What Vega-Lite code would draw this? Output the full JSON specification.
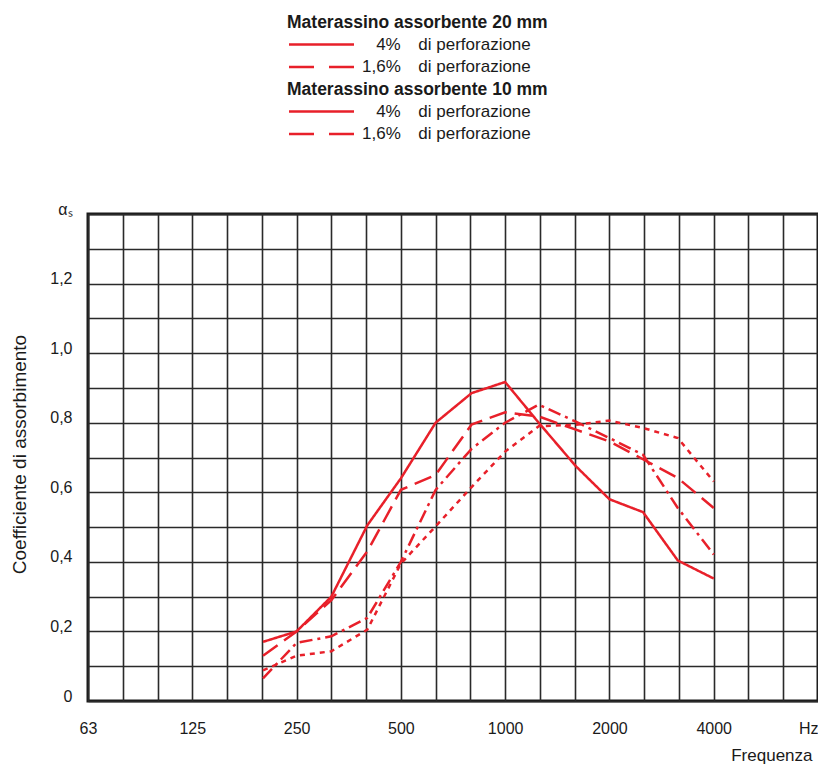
{
  "$schema": "https://vega.github.io/schema/vega-lite/v6.json",
  "width": 730,
  "height": 487,
  "autosize": {"type": "none"},
  "padding": {"left": 88, "top": 214, "right": 0, "bottom": 63},
  "background": "white",
  "config": {
    "font": "Liberation Sans",
    "view": {"stroke": "#1a1a1a", "strokeWidth": 3},
    "axis": {
      "grid": true,
      "gridColor": "#2a2a2a",
      "gridWidth": 1.6,
      "gridOpacity": 1,
      "ticks": false,
      "domain": false,
      "labelFont": "Liberation Sans",
      "labelFontSize": 16,
      "labelColor": "#1a1a1a",
      "labelOverlap": false,
      "labelFlush": false,
      "titleFont": "Liberation Sans",
      "titleFontSize": 17,
      "titleFontWeight": "normal",
      "titleColor": "#1a1a1a"
    },
    "legend": {
      "orient": "none",
      "direction": "vertical",
      "padding": 0,
      "titleFont": "Liberation Sans",
      "titleFontSize": 17.5,
      "titleFontWeight": "bold",
      "titleColor": "#1a1a1a",
      "titleLimit": 500,
      "titlePadding": 4.5,
      "labelFont": "Liberation Sans",
      "labelFontSize": 17,
      "labelColor": "#1a1a1a",
      "labelLimit": 500,
      "labelOffset": 58,
      "rowPadding": 4.5,
      "symbolType": "M-1,0H9",
      "symbolSize": 169,
      "symbolStrokeWidth": 2.5,
      "symbolStrokeColor": "#e8202a"
    }
  },
  "data": {
    "values": [
      {"m": "20 mm", "p": "4%", "f": 200, "a": 0.17},
      {"m": "20 mm", "p": "4%", "f": 250, "a": 0.2},
      {"m": "20 mm", "p": "4%", "f": 315, "a": 0.3},
      {"m": "20 mm", "p": "4%", "f": 400, "a": 0.505},
      {"m": "20 mm", "p": "4%", "f": 500, "a": 0.64},
      {"m": "20 mm", "p": "4%", "f": 630, "a": 0.8},
      {"m": "20 mm", "p": "4%", "f": 800, "a": 0.885},
      {"m": "20 mm", "p": "4%", "f": 1000, "a": 0.917},
      {"m": "20 mm", "p": "4%", "f": 1250, "a": 0.8},
      {"m": "20 mm", "p": "4%", "f": 1600, "a": 0.675},
      {"m": "20 mm", "p": "4%", "f": 2000, "a": 0.58},
      {"m": "20 mm", "p": "4%", "f": 2500, "a": 0.543},
      {"m": "20 mm", "p": "4%", "f": 3150, "a": 0.404},
      {"m": "20 mm", "p": "4%", "f": 4000, "a": 0.352},
      {"m": "20 mm", "p": "1,6%", "f": 200, "a": 0.13},
      {"m": "20 mm", "p": "1,6%", "f": 250, "a": 0.2},
      {"m": "20 mm", "p": "1,6%", "f": 315, "a": 0.29},
      {"m": "20 mm", "p": "1,6%", "f": 400, "a": 0.43},
      {"m": "20 mm", "p": "1,6%", "f": 500, "a": 0.607},
      {"m": "20 mm", "p": "1,6%", "f": 630, "a": 0.65},
      {"m": "20 mm", "p": "1,6%", "f": 800, "a": 0.795},
      {"m": "20 mm", "p": "1,6%", "f": 1000, "a": 0.83},
      {"m": "20 mm", "p": "1,6%", "f": 1250, "a": 0.818},
      {"m": "20 mm", "p": "1,6%", "f": 1600, "a": 0.78},
      {"m": "20 mm", "p": "1,6%", "f": 2000, "a": 0.746},
      {"m": "20 mm", "p": "1,6%", "f": 2500, "a": 0.695},
      {"m": "20 mm", "p": "1,6%", "f": 3150, "a": 0.641},
      {"m": "20 mm", "p": "1,6%", "f": 4000, "a": 0.555},
      {"m": "10 mm", "p": "4%", "f": 200, "a": 0.065},
      {"m": "10 mm", "p": "4%", "f": 250, "a": 0.167},
      {"m": "10 mm", "p": "4%", "f": 315, "a": 0.186},
      {"m": "10 mm", "p": "4%", "f": 400, "a": 0.239},
      {"m": "10 mm", "p": "4%", "f": 500, "a": 0.4},
      {"m": "10 mm", "p": "4%", "f": 630, "a": 0.607},
      {"m": "10 mm", "p": "4%", "f": 800, "a": 0.725},
      {"m": "10 mm", "p": "4%", "f": 1000, "a": 0.8},
      {"m": "10 mm", "p": "4%", "f": 1250, "a": 0.852},
      {"m": "10 mm", "p": "4%", "f": 1600, "a": 0.803},
      {"m": "10 mm", "p": "4%", "f": 2000, "a": 0.756},
      {"m": "10 mm", "p": "4%", "f": 2500, "a": 0.708},
      {"m": "10 mm", "p": "4%", "f": 3150, "a": 0.555},
      {"m": "10 mm", "p": "4%", "f": 4000, "a": 0.421},
      {"m": "10 mm", "p": "1,6%", "f": 200, "a": 0.088},
      {"m": "10 mm", "p": "1,6%", "f": 250, "a": 0.13},
      {"m": "10 mm", "p": "1,6%", "f": 315, "a": 0.143},
      {"m": "10 mm", "p": "1,6%", "f": 400, "a": 0.205},
      {"m": "10 mm", "p": "1,6%", "f": 500, "a": 0.395},
      {"m": "10 mm", "p": "1,6%", "f": 630, "a": 0.502},
      {"m": "10 mm", "p": "1,6%", "f": 800, "a": 0.615},
      {"m": "10 mm", "p": "1,6%", "f": 1000, "a": 0.717},
      {"m": "10 mm", "p": "1,6%", "f": 1250, "a": 0.79},
      {"m": "10 mm", "p": "1,6%", "f": 1600, "a": 0.794},
      {"m": "10 mm", "p": "1,6%", "f": 2000, "a": 0.806},
      {"m": "10 mm", "p": "1,6%", "f": 2500, "a": 0.785},
      {"m": "10 mm", "p": "1,6%", "f": 3150, "a": 0.756},
      {"m": "10 mm", "p": "1,6%", "f": 4000, "a": 0.631}
    ]
  },
  "encoding": {
    "x": {
      "field": "f",
      "type": "quantitative",
      "scale": {"type": "log", "domain": [62.5, 8000], "nice": false},
      "axis": {
        "values": [62.5, 78.745, 99.213, 125, 157.49, 198.425, 250, 314.98, 396.85, 500, 629.96, 793.7, 1000, 1259.92, 1587.4, 2000, 2519.84, 3174.8, 4000, 5039.68, 6349.6, 8000],
        "labelExpr": "datum.value < 63 ? '63' : datum.value > 7999 ? 'Hz' : (datum.value == 125 || datum.value == 250 || datum.value == 500 || datum.value == 1000 || datum.value == 2000 || datum.value == 4000) ? ('' + datum.value) : ''",
        "labelPadding": 19,
        "labelAlign": {"condition": {"test": "datum.value > 7999", "value": "right"}, "value": "center"},
        "title": "Frequenza",
        "titleAnchor": "end",
        "titleAlign": "right",
        "titleBaseline": "middle",
        "titleX": 724,
        "titleY": 54
      }
    },
    "y": {
      "field": "a",
      "type": "quantitative",
      "scale": {"domain": [0, 1.4], "nice": false},
      "axis": {
        "values": [0, 0.1, 0.2, 0.3, 0.4, 0.5, 0.6, 0.7, 0.8, 0.9, 1.0, 1.1, 1.2, 1.3, 1.4],
        "labelExpr": "datum.value > 1.35 ? '\u03b1\u209b' : datum.value < 0.05 ? '0' : (round(datum.value * 10) % 2 == 0 ? replace(format(datum.value, '.1f'), '.', ',') : '')",
        "labelPadding": 16,
        "labelOffset": -5,
        "title": "Coefficiente di assorbimento",
        "titleFontSize": 19,
        "titleAlign": "center",
        "titleBaseline": "middle",
        "titleAngle": -90,
        "titleX": -69,
        "titleY": 240
      }
    }
  },
  "layer": [
    {
      "transform": [{"filter": "datum.m == '20 mm'"}],
      "mark": {"type": "line", "color": "#e8202a", "strokeWidth": 2.5, "strokeCap": "butt"},
      "encoding": {
        "strokeDash": {
          "field": "p",
          "type": "nominal",
          "scale": {"domain": ["4%", "1,6%"], "range": [[1, 0], [18, 8]]},
          "legend": null
        }
      }
    },
    {
      "transform": [{"filter": "datum.m == '10 mm'"}],
      "mark": {"type": "line", "color": "#e8202a", "strokeWidth": 2.5, "strokeCap": "butt"},
      "encoding": {
        "strokeDash": {
          "field": "p",
          "type": "nominal",
          "scale": {"domain": ["4%", "1,6%"], "range": [[13, 5, 3, 5], [5, 5]]},
          "legend": null
        }
      }
    },
    {
      "transform": [{"filter": "false"}],
      "mark": {"type": "line", "color": "#e8202a", "strokeWidth": 2.5},
      "encoding": {
        "strokeDash": {
          "field": "p",
          "type": "nominal",
          "scale": {"domain": ["4%", "1,6%"], "range": [[1, 0], [25, 15]]},
          "legend": {
            "title": "Materassino assorbente 20 mm",
            "legendX": 199,
            "legendY": -200,
            "labelExpr": "datum.label == '4%' ? '\u200b\u00a0\u00a0\u00a04%\u00a0\u00a0\u00a0\u2009di perforazione' : '1,6%\u00a0\u00a0\u00a0\u2009di perforazione'"
          }
        }
      }
    },
    {
      "transform": [{"filter": "false"}],
      "mark": {"type": "line", "color": "#e8202a", "strokeWidth": 2.5},
      "encoding": {
        "strokeDash": {
          "field": "p",
          "type": "nominal",
          "scale": {"domain": ["4%", "1,6%"], "range": [[1, 0], [25, 15]]},
          "legend": {
            "title": "Materassino assorbente 10 mm",
            "legendX": 199,
            "legendY": -133,
            "labelExpr": "datum.label == '4%' ? '\u200b\u00a0\u00a0\u00a04%\u00a0\u00a0\u00a0\u2009di perforazione' : '1,6%\u00a0\u00a0\u00a0\u2009di perforazione'"
          }
        }
      }
    }
  ],
  "resolve": {
    "scale": {"strokeDash": "independent"},
    "legend": {"strokeDash": "independent"}
  }
}
